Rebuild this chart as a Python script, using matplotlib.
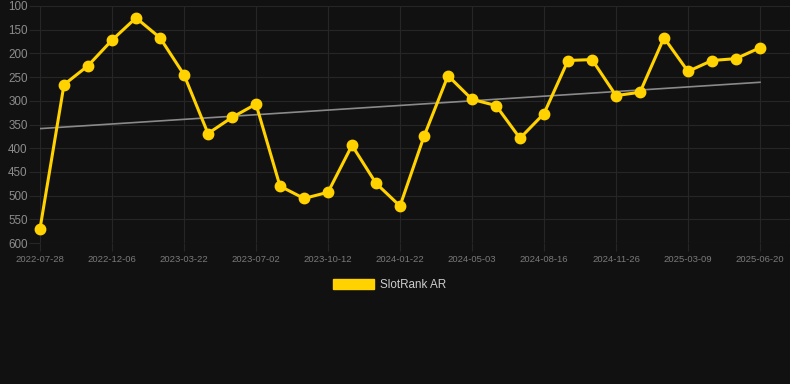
import numpy as np
import matplotlib.pyplot as plt

dates = ["2022-07-28", "2022-09-10", "2022-10-23", "2022-12-06", "2023-01-10",
         "2023-02-14", "2023-03-22", "2023-04-25", "2023-05-29", "2023-07-02",
         "2023-08-05", "2023-09-08", "2023-10-12", "2023-11-15", "2023-12-19",
         "2024-01-22", "2024-02-25", "2024-03-30", "2024-05-03", "2024-06-06",
         "2024-07-11", "2024-08-16", "2024-09-19", "2024-10-23", "2024-11-26",
         "2024-12-30", "2025-02-03", "2025-03-09", "2025-04-12", "2025-05-16",
         "2025-06-20"]
rank = [570, 266, 226, 172, 125, 167, 245, 369, 335, 307,
        480, 506, 493, 394, 474, 522, 375, 247, 297, 310,
        379, 327, 215, 213, 289, 282, 167, 238, 215, 211, 188]
y_ticks = [100, 150, 200, 250, 300, 350, 400, 450, 500, 550, 600]

bg = "#111111"
gold = "#FFD200"
grid = "#262626"

plt.rcParams['font.family'] = ['Liberation Sans', 'DejaVu Sans']

fig = plt.figure(figsize=(7.9, 3.84), dpi=100, facecolor=bg)
W, H = 790, 384
ax = fig.add_axes([40 / W, 1 - 243 / H, (790 - 40) / W, (243 - 6) / H])
ax.set_facecolor(bg)

x = np.arange(len(rank))
# linear trend of the series
k, b = np.polyfit(x, rank, 1)
ax.plot(x, k * x + b, color="#8a8a8a", lw=1.2, zorder=2)
ax.plot(x, rank, color=gold, lw=2.2, marker="o", markersize=7.5,
        zorder=3, label="SlotRank AR", clip_on=False)

ax.set_xlim(0, 31.25)
ax.set_ylim(600, 100)
ax.set_yticks(y_ticks)
ax.set_xticks(x[::3])
ax.set_xticklabels(dates[::3])
ax.grid(True, color=grid, lw=0.8)
for s in ax.spines.values():
    s.set_visible(False)
ax.tick_params(axis="y", colors=grid, labelcolor="#8c8c8c", labelsize=8.4,
               length=8, width=0.8, pad=1)
ax.tick_params(axis="x", colors=grid, labelcolor="#7a7a7a", labelsize=6.8,
               length=6, width=0.8, pad=3)

leg = fig.legend(handles=[plt.Rectangle((0, 0), 1, 1, color=gold)],
                 labels=["SlotRank AR"], loc="center",
                 bbox_to_anchor=(389.5 / W, 1 - 285 / H),
                 frameon=False, fontsize=8.4, handlelength=3.5, handleheight=1.0,
                 handletextpad=0.5)
for t in leg.get_texts():
    t.set_color("#cccccc")

fig.savefig("out.png", dpi=100, facecolor=bg)
